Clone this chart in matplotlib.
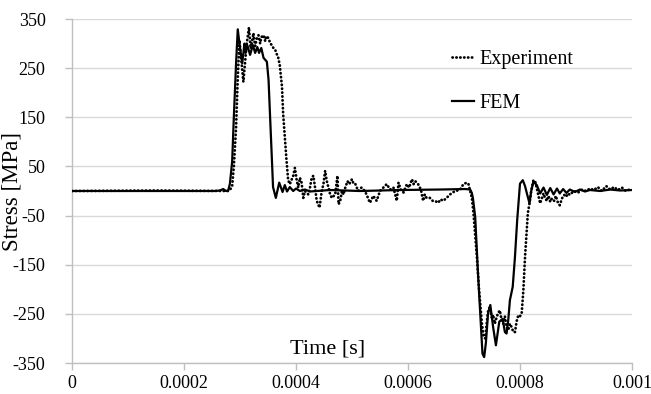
import numpy as np
import matplotlib
matplotlib.use("Agg")
import matplotlib.pyplot as plt

plt.rcParams['font.family'] = ['Liberation Serif', 'DejaVu Serif']
plt.rcParams['axes.unicode_minus'] = False

# ---- data (time in microseconds, stress in MPa) ----
fem_t_us = [0, 255, 264, 270, 275, 279, 282, 286, 289, 293, 296, 299, 304, 308, 310, 313,
            318, 323, 327, 331, 334, 338, 342, 348, 351, 354, 357, 359, 364, 370, 376,
            380, 384, 389, 395, 400, 407, 416, 425, 461, 514, 586, 657, 702, 711,
            714, 716, 720, 725, 730, 733, 736, 739, 743, 747, 752, 757, 763, 769, 773,
            776, 779, 782, 787, 791, 795, 800, 805, 809, 813, 817, 820, 824, 830, 836,
            842, 848, 854, 860, 866, 871, 877, 883, 889, 898, 907, 916, 925, 943, 961,
            979, 1000]
fem_stress = [0, 0, 1, 4, 0, 1, 15, 60, 150, 260, 329, 300, 260, 300, 281, 297,
              277, 297, 281, 293, 281, 291, 271, 263, 226, 144, 63, 8, -14, 17, -2,
              12, -1, 8, 0, 5, 0, 3, -1, 2, 0, 2, 3, 4, 3,
              -4, -15, -53, -168, -270, -331, -338, -310, -249, -232, -277, -314, -266, -260, -287,
              -290, -263, -222, -195, -134, -59, 15, 22, 10, -8, -25, 0, 19, 12, -5,
              7, -8, 6, -7, 5, -5, 4, -4, 3, -2, 3, -1, 2, 0, 3,
              1, 2]

exp_t_us = [0, 150, 279, 282, 286, 289, 293, 296, 299, 302, 306, 309, 312, 316, 319, 321,
            324, 327, 330, 333, 336, 338, 342, 345, 347, 351, 354, 357, 360, 363, 365,
            368, 371, 375, 377, 380, 383, 386,
            389, 395, 398, 401, 404, 407, 410, 413, 416, 422, 425, 428, 431, 434, 437,
            442, 446, 449, 452, 455, 458, 461, 464, 470, 474, 476, 479, 482, 485, 488,
            492, 495, 500, 502, 505, 511, 517, 523, 527, 532, 538, 544, 550, 556, 562,
            568, 574, 580, 583, 587, 592, 598, 602, 607, 610, 613, 618, 623, 627, 630,
            633, 639, 644, 648, 654, 658, 663, 669, 675, 680, 684, 688, 693, 699, 705,
            708, 711, 714, 717, 723, 727, 732, 735, 738, 741, 743, 746, 750, 752, 755,
            758, 761, 764, 767, 770, 773, 776, 779, 782, 785, 788, 791, 794, 797, 800,
            803, 806, 809, 812, 814, 817, 820, 824, 827, 830, 833, 836, 839, 842, 845,
            848, 851, 854, 857, 861, 864, 868, 871, 875, 879, 882, 886, 889, 896, 904,
            911, 918, 925, 932, 939, 946, 954, 961, 968, 975, 982, 989, 1000]
exp_stress = [0, 1, 0, 2, 10, 50, 130, 230, 307, 270, 222, 260, 300, 333, 290, 300,
              321, 295, 310, 317, 300, 313, 317, 305, 315, 311, 300, 297, 290, 287, 280,
              273, 256, 212, 158, 110, 63, 22,
              14, 31, 47, 24, 7, 27, 17, -14, 0, -7, 7, 27, 31, 7, -20,
              -34, 0, 14, 41, 20, 7, -7, -14, -7, 31, -27, -20, 0, -7, 7,
              20, 14, 24, 17, 17, 0, 7, 0, -10, -24, -10, -20, 0, 7, 14,
              3, 7, -20, 17, 3, -3, 14, 7, 24, 14, 20, 14, 3, -20, -7,
              -14, -14, -20, -20, -24, -17, -20, -14, -7, -3, 0, 1, 3, 14, 17,
              14, 0, -14, -46, -134, -202, -270, -297, -300, -263, -245, -236, -260, -252, -270,
              -258, -248, -243, -262, -270, -255, -277, -283, -270, -277, -287, -287, -265, -253, -255,
              -249, -202, -134, -80, -45, -25, 0, 22, 20, 5, -10, -25, -15, -5, -15,
              -20, -10, -22, -15, -20, -10, -25, -29, -15, -8, -12, -5, -8, 0, -3,
              3, 0, 5, 2, 8, 0, 10, 3, 8, 2, 7, 0, 5]

x_ticks = [0, 0.0002, 0.0004, 0.0006, 0.0008, 0.001]
x_tick_labels = ["0", "0.0002", "0.0004", "0.0006", "0.0008", "0.001"]
y_ticks = [-350, -250, -150, -50, 50, 150, 250, 350]
y_tick_labels = ["-350", "-250", "-150", "-50", "50", "150", "250", "350"]

fem_t = np.array(fem_t_us) * 1e-6
exp_t = np.array(exp_t_us) * 1e-6

fig = plt.figure(figsize=(6.51, 3.94), dpi=100)
ax = fig.add_axes([72/651, 1-363/394, 560/651, 344/394])

ax.plot(exp_t, exp_stress, color='black', lw=2.0, linestyle=(0, (0.1, 1.3)),
        dash_capstyle='round', label='Experiment', zorder=3)
ax.plot(fem_t, fem_stress, color='black', lw=1.6, label='FEM', zorder=4)

ax.set_xlim(0, 0.001)
ax.set_ylim(-350, 350)
ax.set_xticks(x_ticks)
ax.set_xticklabels(x_tick_labels)
ax.set_yticks(y_ticks)
ax.set_yticklabels(y_tick_labels)
ax.yaxis.grid(True, color='#d9d9d9', lw=1.0)
ax.set_axisbelow(True)
for s in ['top', 'right']:
    ax.spines[s].set_visible(False)
for s in ['left', 'bottom']:
    ax.spines[s].set_color('#bfbfbf')
    ax.spines[s].set_linewidth(1.0)
ax.tick_params(axis='both', direction='out', length=5, width=1.0, color='#bfbfbf',
               labelsize=13, labelcolor='black')
ax.tick_params(axis='y', pad=14)
ax.tick_params(axis='x', pad=4)

ax.text(0.457, 0.042, 'Time [s]', transform=ax.transAxes, ha='center', va='center',
        fontsize=16)
fig.text(12.5/651, 1-191/394, 'Stress [MPa]', rotation=90, ha='center', va='center',
         fontsize=16.5)

leg = ax.legend(loc='upper left', bbox_to_anchor=(0.678, 0.91), frameon=False,
                fontsize=14.5, handlelength=1.1, handletextpad=0.3, labelspacing=1.25,
                borderpad=0, borderaxespad=0)

fig.savefig('out.png', dpi=100)
